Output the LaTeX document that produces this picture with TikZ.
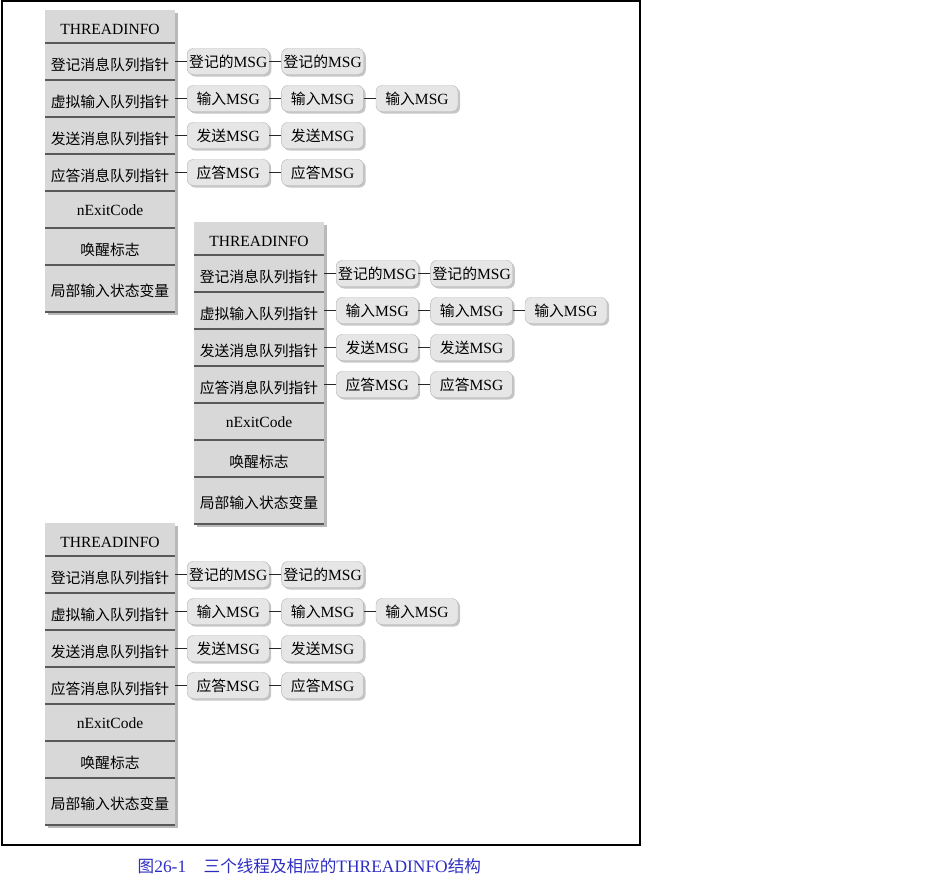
\documentclass[tikz,border=0pt]{standalone}
\usepackage{fontspec}
\setmainfont[Scale=1.05]{Liberation Serif}
\newfontfamily\cjk{Noto Sans CJK SC}
\usetikzlibrary{positioning,shadows}
\newcommand\zh[1]{{\cjk #1}}
\definecolor{fieldgray}{RGB}{216,216,216}
\definecolor{msggray}{RGB}{230,230,230}
\definecolor{captionblue}{RGB}{45,45,195}
\tikzset{%
	field/.style   = {fill=fieldgray, minimum width=130pt, minimum height=37pt, inner sep=0pt, outer sep=0pt, text centered,
	                  text height=19pt, text depth=1pt,
	                  drop shadow={opacity=0.55, shadow xshift=2.5pt, shadow yshift=-2.5pt}},
	msg/.style     = {draw=gray!60, fill=msggray, rounded corners=6pt, minimum width=82pt, minimum height=26pt, inner sep=2pt,
	                  drop shadow={opacity=0.45, shadow xshift=2pt, shadow yshift=-2pt}}, % MSG
	divider/.style = {line width=1.5pt, black!65},
	link/.style    = {line width=1.2pt, black!85},
}
% one THREADINFO with its queues: #1 name, #2 x, #3 y of top left corner
\newcommand\threadinfo[3]{%
	\node [field, minimum height=33pt, text height=16pt, anchor=north west] (#1r0) at (#2,#3) {THREADINFO};
	\node [field, below=0pt of #1r0] (#1r1) {\zh{登记消息队列指针}};
	\node [field, below=0pt of #1r1] (#1r2) {\zh{虚拟输入队列指针}};
	\node [field, below=0pt of #1r2] (#1r3) {\zh{发送消息队列指针}};
	\node [field, below=0pt of #1r3] (#1r4) {\zh{应答消息队列指针}};
	\node [field, below=0pt of #1r4, text height=11pt, text depth=0pt] (#1r5) {nExitCode};
	\node [field, below=0pt of #1r5] (#1r6) {\zh{唤醒标志}};
	\node [field, below=0pt of #1r6, minimum height=47pt, text height=17pt] (#1r7) {\zh{局部输入状态变量}};
	\foreach \i in {1,...,7} \draw[divider] (#1r\i.north west) -- (#1r\i.north east);
	\draw[divider] (#1r7.south west) -- (#1r7.south east);
	
	\node [msg, right=12pt of #1r1] (#1post1) {\zh{登记的}MSG};
	\node [msg, right=12pt of #1post1] (#1post2) {\zh{登记的}MSG};
	\node [msg, right=12pt of #1r2] (#1input1) {\zh{输入}MSG};
	\node [msg, right=12pt of #1input1] (#1input2) {\zh{输入}MSG};
	\node [msg, right=12pt of #1input2] (#1input3) {\zh{输入}MSG};
	\node [msg, right=12pt of #1r3] (#1send1) {\zh{发送}MSG};
	\node [msg, right=12pt of #1send1] (#1send2) {\zh{发送}MSG};
	\node [msg, right=12pt of #1r4] (#1reply1) {\zh{应答}MSG};
	\node [msg, right=12pt of #1reply1] (#1reply2) {\zh{应答}MSG};
	
	\draw[link] (#1r1) -- (#1post1);
	\draw[link] (#1post1) -- (#1post2);
	\draw[link] (#1r2) -- (#1input1);
	\draw[link] (#1input1) -- (#1input2);
	\draw[link] (#1input2) -- (#1input3);
	\draw[link] (#1r3) -- (#1send1);
	\draw[link] (#1send1) -- (#1send2);
	\draw[link] (#1r4) -- (#1reply1);
	\draw[link] (#1reply1) -- (#1reply2);
}

\begin{document}
\begin{tikzpicture}[x=1pt,y=1pt,font=\fontsize{14.8}{17}\selectfont]
	\useasboundingbox (0,0) rectangle (927,-884);
	\draw[line width=1.2pt] (2,-1) rectangle (640,-845);
	
	\threadinfo{ta}{45}{-10}
	\threadinfo{tb}{194}{-222}
	\threadinfo{tc}{45}{-523}
	
	\node [text=captionblue, anchor=west, font=\fontsize{16.6}{19}\selectfont] (caption) at (134,-866)
		{\zh{图}26-1\hspace{1em}\zh{三个线程及相应的}THREADINFO\zh{结构}};
\end{tikzpicture}
\end{document}
